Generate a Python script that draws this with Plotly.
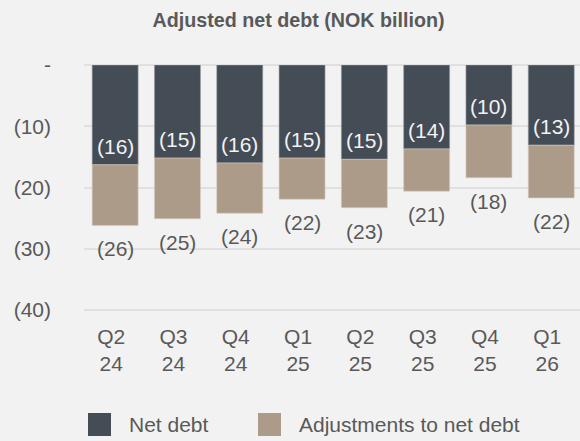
import plotly.graph_objects as go

quarters = ["Q2<br>24", "Q3<br>24", "Q4<br>24", "Q1<br>25", "Q2<br>25", "Q3<br>25", "Q4<br>25", "Q1<br>26"]
net_debt = [-16.3, -15.2, -16.0, -15.2, -15.4, -13.7, -9.8, -13.1]
adjustments = [-9.9, -9.9, -8.2, -6.7, -7.9, -6.9, -8.6, -8.6]
net_debt_labels = ["(16)", "(15)", "(16)", "(15)", "(15)", "(14)", "(10)", "(13)"]
total_labels = ["(26)", "(25)", "(24)", "(22)", "(23)", "(21)", "(18)", "(22)"]
y_tickvals = [0, -10, -20, -30, -40]
y_ticktext = ["-", "(10)", "(20)", "(30)", "(40)"]

totals = [a + b for a, b in zip(net_debt, adjustments)]

DARK = "#444c56"
TAN = "#ad9b89"
BG = "#f2f2f2"
TXT = "#595959"
FONT = "Liberation Sans"
FS = 21

W, H = 580, 441
ML, MR, MT = 84, 0, 65
Y_LO = -41.96
PH = 245 * (-Y_LO) / 40
MB = H - MT - PH
PW = W - ML - MR
BOTTOM_PX = H - MB

fig = go.Figure()
fig.add_trace(go.Bar(
    x=quarters, y=net_debt, name="Net debt",
    marker=dict(color=DARK, line=dict(color="#9aa0a6", width=0.6)),
    showlegend=False,
))
fig.add_trace(go.Bar(
    x=quarters, y=adjustments, name="Adjustments to net debt",
    marker=dict(color=TAN, line=dict(color="#d8cdc2", width=0.6)),
    showlegend=False,
))

for q, v, lab in zip(quarters, net_debt, net_debt_labels):
    fig.add_annotation(x=q, y=v, text=lab, showarrow=False, yanchor="bottom",
                       yshift=5, font=dict(color=BG, size=FS, family=FONT))

for q, t, lab in zip(quarters, totals, total_labels):
    fig.add_annotation(x=q, y=t, text=lab, showarrow=False, yanchor="top",
                       yshift=-10, font=dict(color=TXT, size=FS, family=FONT))

def px_x(p):
    return (p - ML) / PW

def px_y(p):
    return (BOTTOM_PX - p) / PH

# manual legend
legend_items = [("Net debt", DARK, 88, 127), ("Adjustments to net debt", TAN, 258, 297)]
for name, col, sx, tx in legend_items:
    fig.add_shape(type="rect", xref="paper", yref="paper",
                  x0=px_x(sx), x1=px_x(sx + 23), y0=px_y(436), y1=px_y(413),
                  fillcolor=col, line=dict(width=0))
    fig.add_annotation(xref="paper", yref="paper", x=px_x(tx), y=px_y(424.5),
                       xanchor="left", yanchor="middle", text=name, showarrow=False,
                       font=dict(color=TXT, size=FS, family=FONT))

fig.update_layout(
    width=W, height=H,
    margin=dict(l=ML, r=MR, t=MT, b=MB),
    paper_bgcolor=BG, plot_bgcolor=BG,
    barmode="relative", bargap=0.262,
    title=dict(text="<b>Adjusted net debt (NOK billion)</b>", x=298.5 / W, xref="container",
               xanchor="center", y=1 - 20 / H, yref="container", yanchor="middle",
               font=dict(color=TXT, size=19.7, family=FONT)),
    font=dict(family=FONT, color=TXT, size=FS),
)
fig.update_xaxes(range=[-0.5, -0.5 + PW / 62.3], showgrid=False, ticks="",
                 tickfont=dict(color=TXT, size=FS, family=FONT),
                 ticklabelstandoff=0, ticklabelshift=-4)
fig.update_yaxes(range=[Y_LO, 0], tickvals=y_tickvals, ticktext=y_ticktext,
                 showgrid=True, gridcolor="#e0e0e0", gridwidth=1.5,
                 zeroline=True, zerolinecolor="#e0e0e0", zerolinewidth=1.5,
                 tickfont=dict(color=TXT, size=FS, family=FONT), ticklabelstandoff=32)

fig.write_html("out.html")
